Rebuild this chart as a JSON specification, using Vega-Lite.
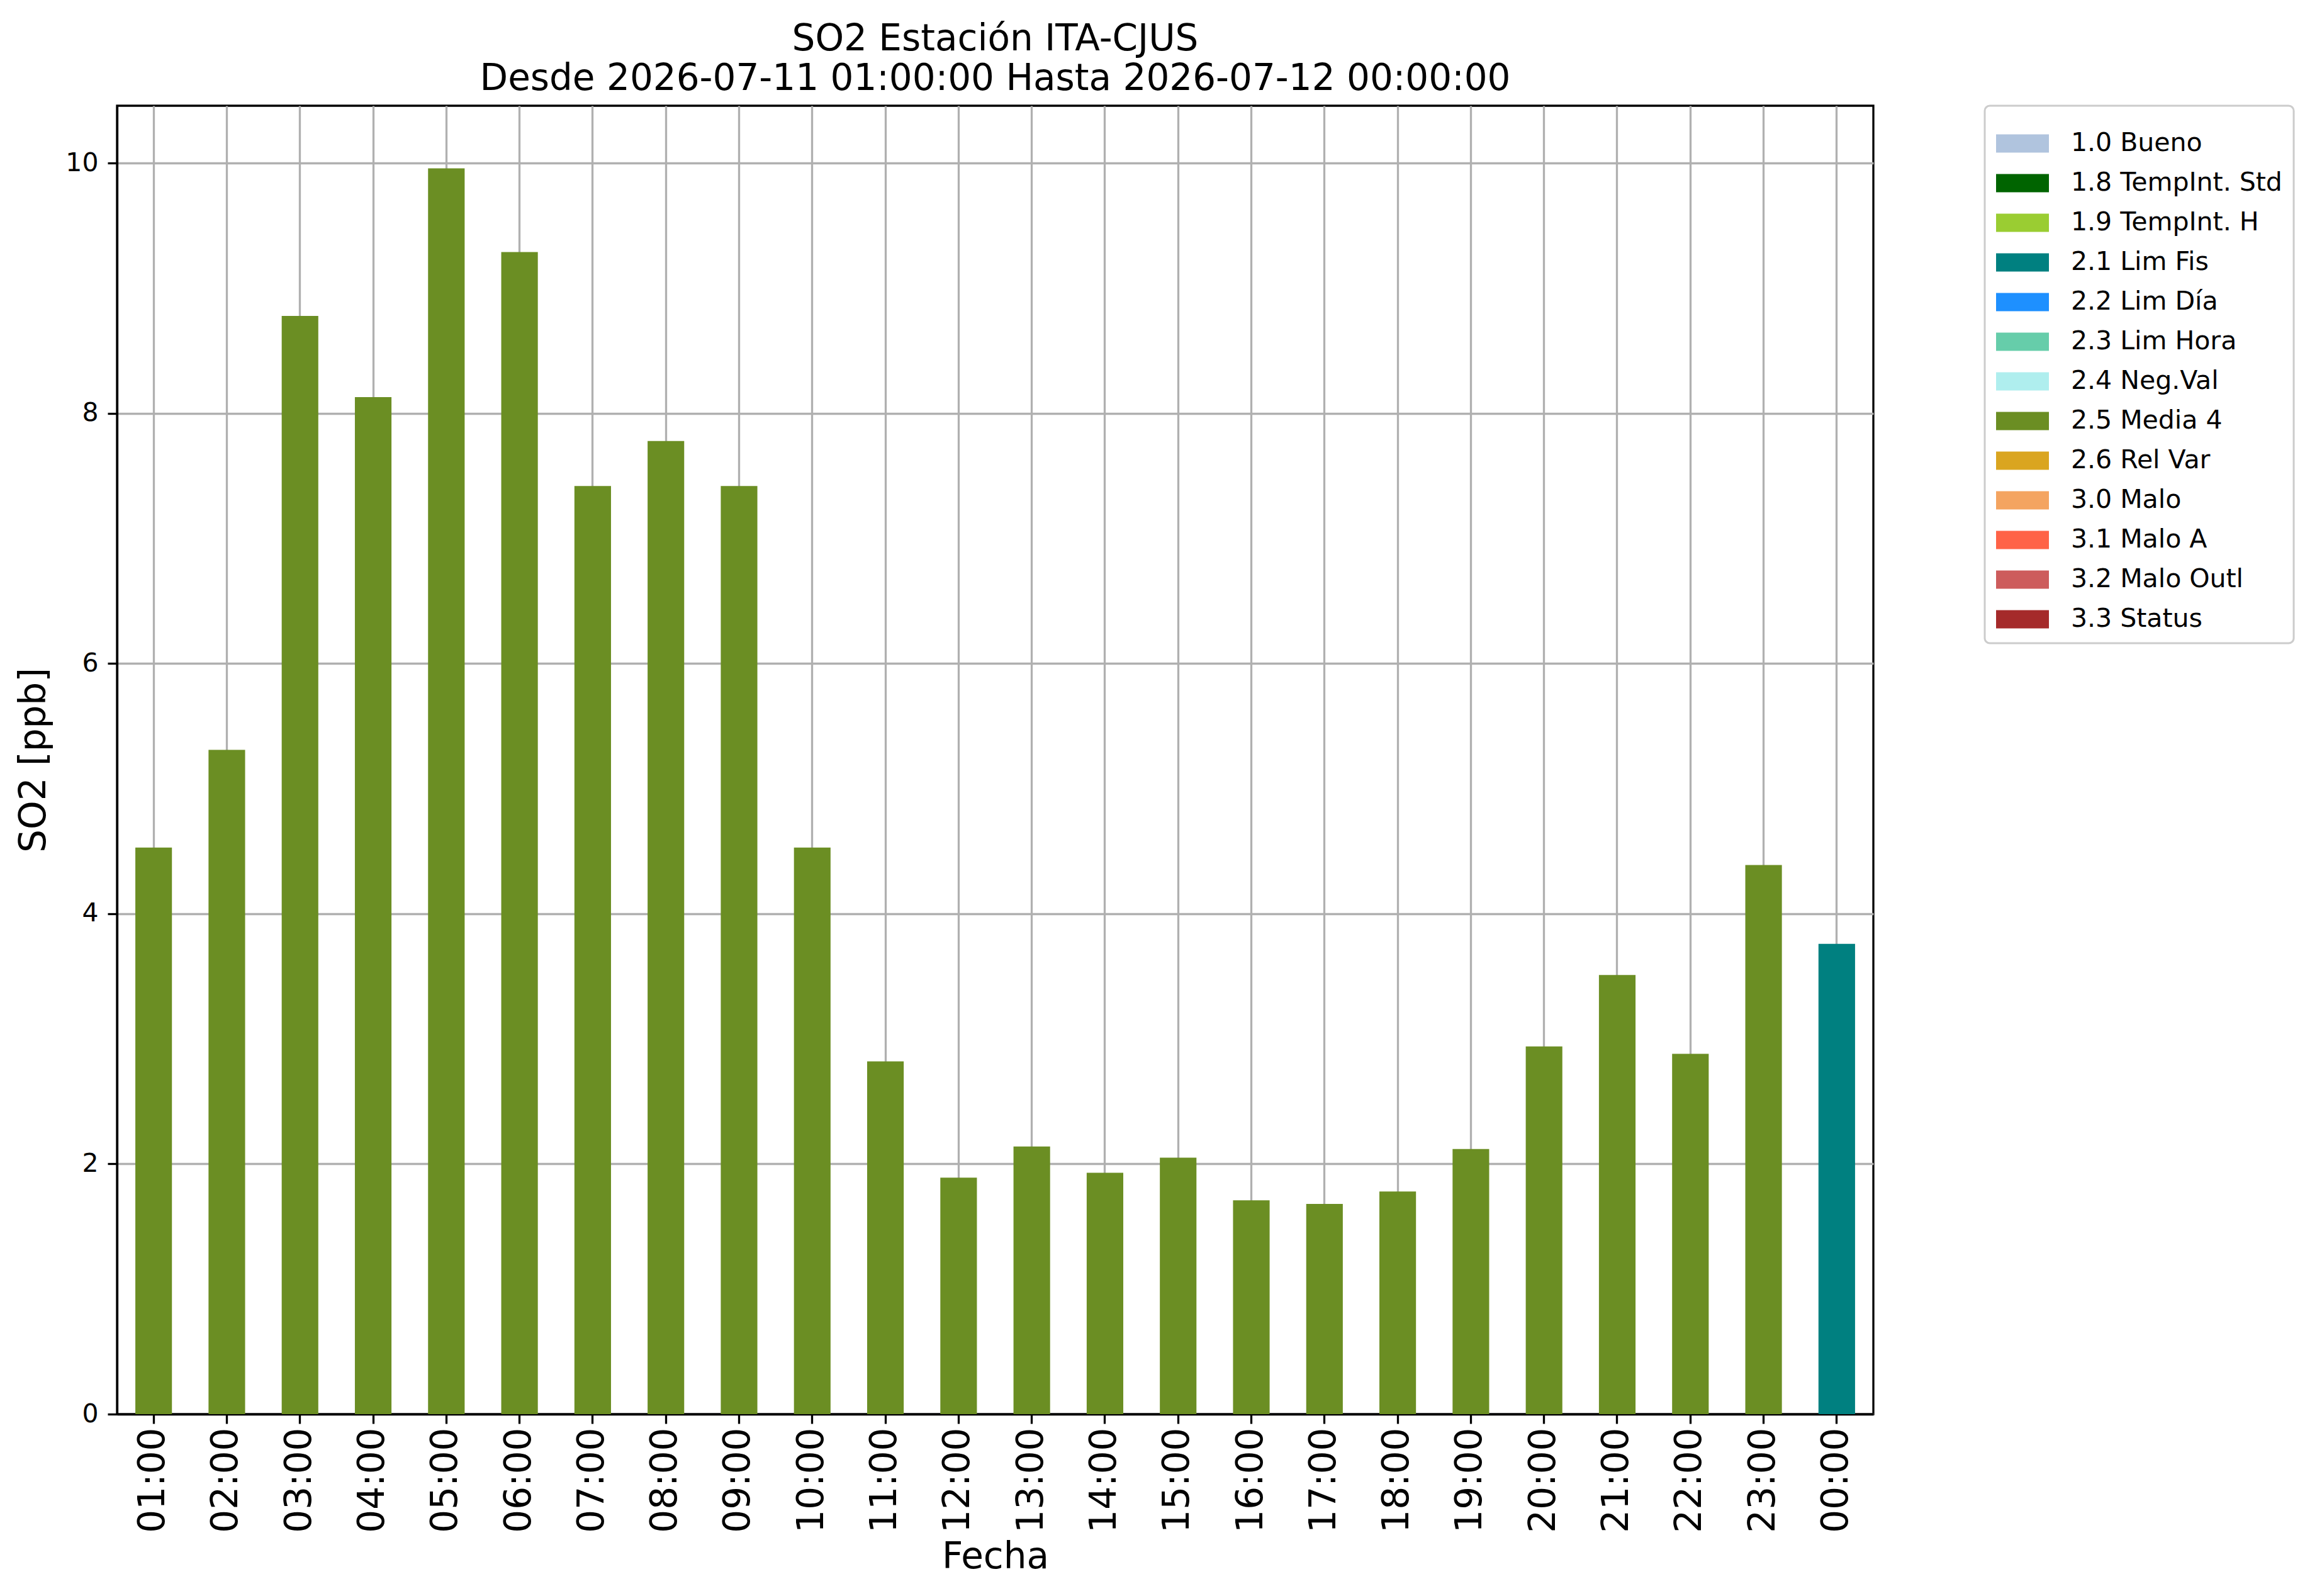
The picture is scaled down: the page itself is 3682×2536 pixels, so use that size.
{
  "$schema": "https://vega.github.io/schema/vega-lite/v6.json",
  "autosize": {"type": "none"},
  "width": 2791,
  "height": 2079,
  "padding": {"left": 186, "top": 168, "right": 705, "bottom": 289},
  "background": "white",
  "config": {
    "font": "DejaVu Sans",
    "view": {"stroke": "black", "strokeWidth": 3.3},
    "axis": {
      "labelFont": "DejaVu Sans",
      "titleFont": "DejaVu Sans",
      "labelColor": "black",
      "titleColor": "black",
      "titleFontWeight": "normal",
      "domainColor": "black",
      "domainWidth": 3.3,
      "tickColor": "black",
      "tickWidth": 3.3,
      "tickSize": 15,
      "gridColor": "#b0b0b0",
      "gridWidth": 3.3,
      "gridOpacity": 1,
      "zindex": 1
    }
  },
  "title": {
    "text": ["SO2 Estación ITA-CJUS", "Desde 2026-07-11 01:00:00 Hasta 2026-07-12 00:00:00"],
    "font": "DejaVu Sans",
    "fontSize": 58,
    "fontWeight": "normal",
    "color": "black",
    "anchor": "middle",
    "frame": "group",
    "lineHeight": 63,
    "offset": 12
  },
  "data": {
    "values": [
      {"hora": "01:00", "so2": 4.53, "flag": "2.5 Media 4"},
      {"hora": "02:00", "so2": 5.31, "flag": "2.5 Media 4"},
      {"hora": "03:00", "so2": 8.78, "flag": "2.5 Media 4"},
      {"hora": "04:00", "so2": 8.13, "flag": "2.5 Media 4"},
      {"hora": "05:00", "so2": 9.96, "flag": "2.5 Media 4"},
      {"hora": "06:00", "so2": 9.29, "flag": "2.5 Media 4"},
      {"hora": "07:00", "so2": 7.42, "flag": "2.5 Media 4"},
      {"hora": "08:00", "so2": 7.78, "flag": "2.5 Media 4"},
      {"hora": "09:00", "so2": 7.42, "flag": "2.5 Media 4"},
      {"hora": "10:00", "so2": 4.53, "flag": "2.5 Media 4"},
      {"hora": "11:00", "so2": 2.82, "flag": "2.5 Media 4"},
      {"hora": "12:00", "so2": 1.89, "flag": "2.5 Media 4"},
      {"hora": "13:00", "so2": 2.14, "flag": "2.5 Media 4"},
      {"hora": "14:00", "so2": 1.93, "flag": "2.5 Media 4"},
      {"hora": "15:00", "so2": 2.05, "flag": "2.5 Media 4"},
      {"hora": "16:00", "so2": 1.71, "flag": "2.5 Media 4"},
      {"hora": "17:00", "so2": 1.68, "flag": "2.5 Media 4"},
      {"hora": "18:00", "so2": 1.78, "flag": "2.5 Media 4"},
      {"hora": "19:00", "so2": 2.12, "flag": "2.5 Media 4"},
      {"hora": "20:00", "so2": 2.94, "flag": "2.5 Media 4"},
      {"hora": "21:00", "so2": 3.51, "flag": "2.5 Media 4"},
      {"hora": "22:00", "so2": 2.88, "flag": "2.5 Media 4"},
      {"hora": "23:00", "so2": 4.39, "flag": "2.5 Media 4"},
      {"hora": "00:00", "so2": 3.76, "flag": "2.1 Lim Fis"}
    ]
  },
  "mark": {"type": "bar"},
  "encoding": {
    "x": {
      "field": "hora",
      "type": "nominal",
      "sort": null,
      "scale": {"paddingInner": 0.5, "paddingOuter": 0.25},
      "axis": {
        "title": "Fecha",
        "titleFontSize": 58,
        "titlePadding": 10,
        "labelFontSize": 58,
        "labelAngle": 270,
        "labelPadding": 6,
        "grid": true
      }
    },
    "y": {
      "field": "so2",
      "type": "quantitative",
      "scale": {"domain": [0, 10.46], "nice": false},
      "axis": {
        "title": "SO2 [ppb]",
        "titleFontSize": 58,
        "titlePadding": 20,
        "labelFontSize": 41,
        "labelPadding": 15,
        "values": [0, 2, 4, 6, 8, 10],
        "grid": true
      }
    },
    "color": {
      "field": "flag",
      "type": "nominal",
      "scale": {
        "domain": ["1.0 Bueno", "1.8 TempInt. Std", "1.9 TempInt. H", "2.1 Lim Fis", "2.2 Lim Día", "2.3 Lim Hora", "2.4 Neg.Val", "2.5 Media 4", "2.6 Rel Var", "3.0 Malo", "3.1 Malo A", "3.2 Malo Outl", "3.3 Status"],
        "range": ["#B0C4DE", "#006400", "#9ACD32", "#008080", "#1E90FF", "#66CDAA", "#AFEEEE", "#6B8E23", "#DAA520", "#F4A460", "#FF6347", "#CD5C5C", "#A52A2A"]
      },
      "legend": {
        "title": null,
        "orient": "none",
        "legendX": 2968,
        "legendY": 0,
        "padding": 18,
        "strokeColor": "#cccccc",
        "cornerRadius": 8,
        "fillColor": "white",
        "symbolType": "M-1,-0.345L1,-0.345L1,0.345L-1,0.345Z",
        "symbolSize": 7056,
        "symbolStrokeWidth": 0,
        "symbolOpacity": 1,
        "labelFont": "DejaVu Sans",
        "labelFontSize": 41,
        "labelColor": "black",
        "labelOffset": 35,
        "labelLimit": 1000,
        "rowPadding": 1,
        "encode": {"legend": {"update": {"strokeWidth": {"value": 3}}}}
      }
    }
  }
}
